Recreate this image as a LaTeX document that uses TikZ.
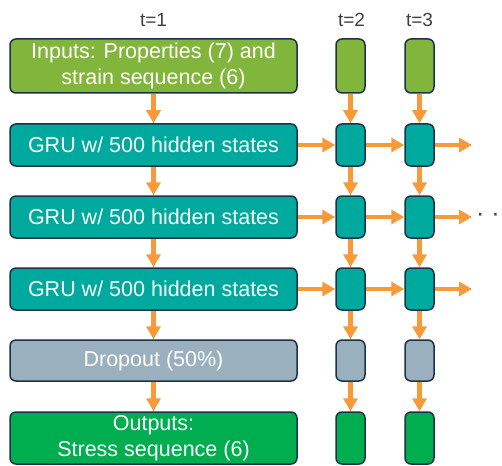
\documentclass[tikz,border=0pt]{standalone}
\usepackage{fontspec}
\setmainfont{Liberation Sans}
\usetikzlibrary{arrows, arrows.meta}

\definecolor{inGreen}{HTML}{82B53B}
\definecolor{gruTeal}{HTML}{00A99D}
\definecolor{dropGray}{HTML}{9AB0BF}
\definecolor{outGreen}{HTML}{00AE4F}
\definecolor{edgeNavy}{HTML}{1B3349}
\definecolor{flowOrange}{HTML}{F8993A}
\definecolor{labelGray}{HTML}{404040}

\tikzset{
  box/.style={draw=edgeNavy, line width=1.5pt, rounded corners=6pt, text=white,
    inner sep=0pt, align=center, font=\fontsize{21.5}{25.8}\selectfont},
  wide/.style={box, minimum width=287pt},
  cell/.style={box, minimum width=29pt},
  tlabel/.style={text=labelGray, inner sep=0pt, font=\fontsize{19}{22}\selectfont},
  flow/.style={draw=flowOrange, line width=4.6pt, -{Triangle[length=13pt,width=14pt]}},
}

\begin{document}
\begin{tikzpicture}[x=1pt,y=-1pt]
\useasboundingbox (0,0) rectangle (502,465);
%\draw[step=10,gray,very thin] (0,0) grid (502,465); %background grid

% time step labels
\node[tlabel] (t1) at (153.5,20) {t=1};
\node[tlabel] (t2) at (351.5,20) {t=2};
\node[tlabel] (t3) at (419.5,20) {t=3};

% inputs
\node[wide, fill=inGreen, minimum height=54pt] (in1) at (153.5,66) {Inputs: Properties (7) and\\strain sequence (6)};
\node[cell, fill=inGreen, minimum height=54pt] (in2) at (350.5,66) {};
\node[cell, fill=inGreen, minimum height=54pt] (in3) at (419.5,66) {};

% GRU layers
\node[wide, fill=gruTeal, minimum height=42pt] (gruA1) at (153.5,145) {GRU w/ 500 hidden states};
\node[cell, fill=gruTeal, minimum height=42pt] (gruA2) at (350.5,145) {};
\node[cell, fill=gruTeal, minimum height=42pt] (gruA3) at (419.5,145) {};

\node[wide, fill=gruTeal, minimum height=42pt] (gruB1) at (153.5,217) {GRU w/ 500 hidden states};
\node[cell, fill=gruTeal, minimum height=42pt] (gruB2) at (350.5,217) {};
\node[cell, fill=gruTeal, minimum height=42pt] (gruB3) at (419.5,217) {};

\node[wide, fill=gruTeal, minimum height=42pt] (gruC1) at (153.5,289) {GRU w/ 500 hidden states};
\node[cell, fill=gruTeal, minimum height=42pt] (gruC2) at (350.5,289) {};
\node[cell, fill=gruTeal, minimum height=42pt] (gruC3) at (419.5,289) {};

% dropout
\node[wide, fill=dropGray, minimum height=41pt] (drop1) at (153.5,360.5) {Dropout (50\%)};
\node[cell, fill=dropGray, minimum height=41pt] (drop2) at (350.5,360.5) {};
\node[cell, fill=dropGray, minimum height=41pt] (drop3) at (419.5,360.5) {};

% outputs
\node[wide, fill=outGreen, minimum height=52pt] (out1) at (153.5,438) {Outputs:\\Stress sequence (6)};
\node[cell, fill=outGreen, minimum height=52pt] (out2) at (350.5,438) {};
\node[cell, fill=outGreen, minimum height=52pt] (out3) at (419.5,438) {};

\coordinate (endA) at (472,145);
\coordinate (endB) at (472,217);
\coordinate (endC) at (472,289);
\node[tlabel, font=\fontsize{25}{28}\selectfont] (more) at (488,217) {· ·};

% vertical flow
\draw[flow] (in1.south) -- (gruA1.north);
\draw[flow] (gruA1.south) -- (gruB1.north);
\draw[flow] (gruB1.south) -- (gruC1.north);
\draw[flow] (gruC1.south) -- (drop1.north);
\draw[flow] (drop1.south) -- (out1.north);

\draw[flow] (in2.south) -- (gruA2.north);
\draw[flow] (gruA2.south) -- (gruB2.north);
\draw[flow] (gruB2.south) -- (gruC2.north);
\draw[flow] (gruC2.south) -- (drop2.north);
\draw[flow] (drop2.south) -- (out2.north);

\draw[flow] (in3.south) -- (gruA3.north);
\draw[flow] (gruA3.south) -- (gruB3.north);
\draw[flow] (gruB3.south) -- (gruC3.north);
\draw[flow] (gruC3.south) -- (drop3.north);
\draw[flow] (drop3.south) -- (out3.north);

% hidden state flow
\draw[flow] (gruA1.east) -- (gruA2.west);
\draw[flow] (gruA2.east) -- (gruA3.west);
\draw[flow] (gruA3.east) -- (endA);

\draw[flow] (gruB1.east) -- (gruB2.west);
\draw[flow] (gruB2.east) -- (gruB3.west);
\draw[flow] (gruB3.east) -- (endB);

\draw[flow] (gruC1.east) -- (gruC2.west);
\draw[flow] (gruC2.east) -- (gruC3.west);
\draw[flow] (gruC3.east) -- (endC);

\end{tikzpicture}
\end{document}
